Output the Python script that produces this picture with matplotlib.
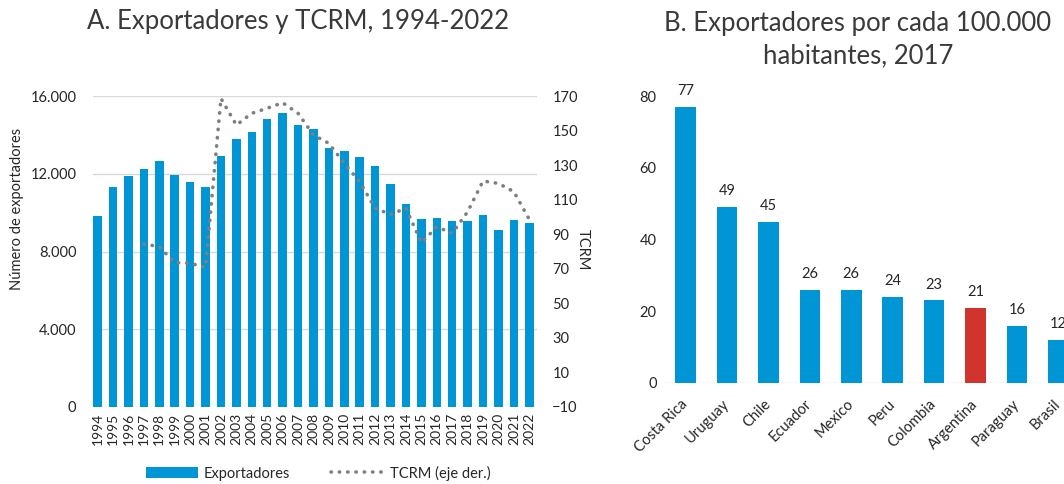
import numpy as np
import matplotlib
matplotlib.use("Agg")
import matplotlib.pyplot as plt
import matplotlib.transforms as mtransforms
from matplotlib.ticker import FuncFormatter

plt.rcParams['font.family'] = ['Lato', 'DejaVu Sans']

# Panel A data
years = list(range(1994, 2023))
exportadores = [9850, 11330, 11870, 12260, 12650, 11920, 11560, 11330, 12930, 13770,
                14130, 14800, 15110, 14510, 14300, 13310, 13180, 12880, 12410, 11470,
                10430, 9670, 9700, 9570, 9570, 9880, 9100, 9600, 9480]
tcrm_years = list(range(1997, 2023))
tcrm = [84.3, 82.8, 73.5, 73.2, 70.8, 168.6, 153.2, 160.0, 162.9, 166.1,
        160.0, 147.4, 142.6, 131.0, 120.4, 105.0, 101.5, 105.0, 85.0, 94.3,
        90.5, 103.0, 120.8, 119.4, 114.6, 98.6]

# Panel B data
paises = ['Costa Rica', 'Uruguay', 'Chile', 'Ecuador', 'Mexico', 'Peru',
          'Colombia', 'Argentina', 'Paraguay', 'Brasil']
por_100k = [77, 49, 45, 26, 26, 24, 23, 21, 16, 12]

blue = '#0095D5'
red = '#D0342C'
grid_c = '#D9D9D9'
txt = '#262626'

fig = plt.figure(figsize=(10.64, 4.84), dpi=100)

# ---- Panel A ----
ax = fig.add_axes([93/1064, 77/484, 444/1064, 311/484])
x = np.arange(len(years))
ax.bar(x, exportadores, width=0.55, color=blue, zorder=2, label='Exportadores')
ax.set_ylim(0, 16000)
ax.set_yticks([0, 4000, 8000, 12000, 16000])
ax.yaxis.set_major_formatter(FuncFormatter(lambda v, p: f'{int(v):,}'.replace(',', '.')))
ax.set_xlim(-0.3, 28.5)
ax.set_xticks(x)
ax.set_xticklabels([str(y) for y in years], rotation=90, fontsize=10, color=txt)
ax.grid(axis='y', color=grid_c, linewidth=1, zorder=0)
ax.set_axisbelow(True)
for s in ax.spines.values():
    s.set_visible(False)
ax.tick_params(axis='y', length=0, labelsize=10.5, colors=txt, pad=12)
ax.tick_params(axis='x', length=0, colors=txt, pad=4)
ax.set_ylabel('Número de exportadores', fontsize=10.5, color=txt)
ax.yaxis.set_label_coords(-0.155, 0.637)

ax2 = ax.twinx()
tx = np.array(tcrm_years) - years[0]
ax2.plot(tx, tcrm, color='#7F7F7F', linestyle=(0, (0.1, 2.2)), linewidth=2.6,
         dash_capstyle='round', label='TCRM (eje der.)', zorder=3)
ax2.set_ylim(-10, 170)
ax2.set_yticks(range(-10, 171, 20))
for s in ax2.spines.values():
    s.set_visible(False)
ax2.tick_params(length=0, labelsize=10.5, colors=txt, pad=11)
ax2.set_ylabel('TCRM', fontsize=10.5, color=txt, rotation=270, va='center')
ax2.yaxis.set_label_coords(1.103, 0.505)

h1, l1 = ax.get_legend_handles_labels()
h2, l2 = ax2.get_legend_handles_labels()
fig.legend(h1 + h2, l1 + l2, loc='center', bbox_to_anchor=(318/1064, 1 - 473/484),
           ncol=2, frameon=False, fontsize=10.5, handlelength=3.6, handleheight=0.7,
           handletextpad=0.4, columnspacing=2.8, labelcolor=txt)

fig.text(298/1064, 1 - 22/484, 'A. Exportadores y TCRM, 1994-2022', ha='center',
         va='center', fontsize=18.5, color='#3A3A3A')

# ---- Panel B ----
bx = fig.add_axes([665/1064, 101/484, 414/1064, 287/484])
xb = np.arange(len(paises))
colors = [red if p == 'Argentina' else blue for p in paises]
bx.bar(xb, por_100k, width=0.5, color=colors, zorder=2)
for xi, v in zip(xb, por_100k):
    bx.text(xi, v + 2.5, str(v), ha='center', va='bottom', fontsize=10.5, color=txt)
bx.set_ylim(0, 80)
bx.set_yticks([0, 20, 40, 60, 80])
bx.set_xlim(-0.5, 9.5)
bx.set_xticks(xb)
bx.set_xticklabels([])
# country labels drawn as rotated texts, nudged left so the last one stays inside
lab_tr = mtransforms.offset_copy(bx.get_xaxis_transform(), fig=fig, x=-5, y=-14, units='dots')
for xi, p in zip(xb, paises):
    bx.text(xi, 0, p, transform=lab_tr, rotation=45, ha='right', va='top',
            rotation_mode='anchor', fontsize=10.5, color=txt)
for s in bx.spines.values():
    s.set_visible(False)
bx.axhline(0, color=grid_c, linewidth=1, zorder=1)
bx.tick_params(axis='y', length=0, labelsize=10.5, colors=txt, pad=6)
bx.tick_params(axis='x', length=0)

fig.text(858/1064, 1 - 40/484, 'B. Exportadores por cada 100.000\nhabitantes, 2017',
         ha='center', va='center', fontsize=18.5, color='#3A3A3A', linespacing=1.35)

fig.savefig('out.png', dpi=100)
